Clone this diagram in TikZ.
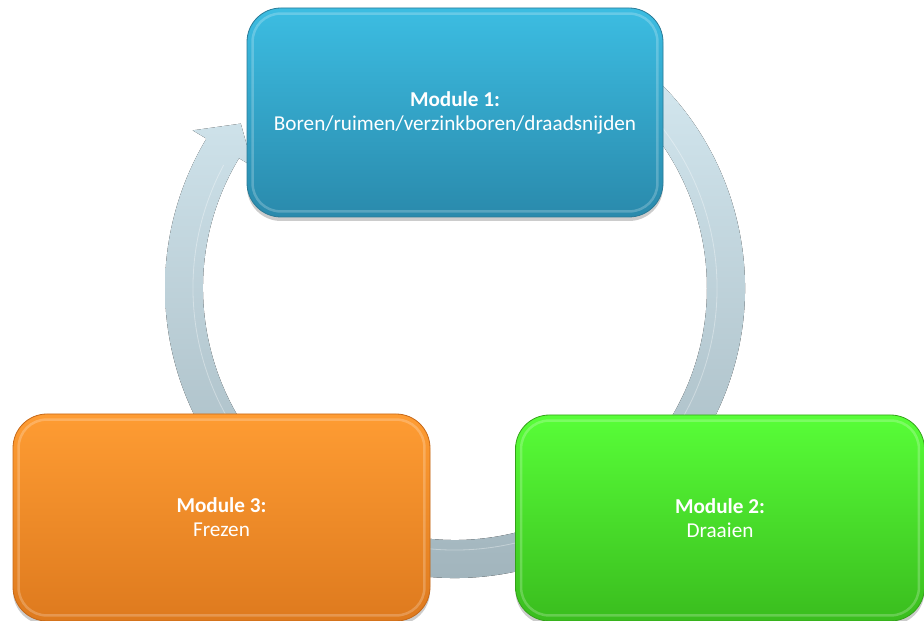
\documentclass[tikz,border=0pt]{standalone}
\usepackage{fontspec}
\setmainfont{Carlito}
\usetikzlibrary{calc,shadows}

\definecolor{ringtop}{HTML}{D6EAF2}
\definecolor{ringbot}{HTML}{9EB1B9}
\definecolor{bluetop}{HTML}{3CBDE2}
\definecolor{bluebot}{HTML}{2A8AAC}
\definecolor{blueedge}{HTML}{2A7A96}
\definecolor{orgtop}{HTML}{FE9C33}
\definecolor{orgbot}{HTML}{DE7A1E}
\definecolor{orgedge}{HTML}{C66817}
\definecolor{grntop}{HTML}{58FE38}
\definecolor{grnbot}{HTML}{3ABD1E}
\definecolor{grnedge}{HTML}{34A21A}

\tikzset{
  modbox/.style n args={3}{
    rounded corners=34pt, inner sep=0pt, align=center,
    text=white, font=\fontsize{21.2}{24}\selectfont,
    top color=#1, bottom color=#2, draw=#3, line width=0.8pt,
    drop shadow={shadow xshift=0pt, shadow yshift=-4pt, opacity=0.2, fill=black}
  },
  bevel/.style={rounded corners=28pt, draw=white, draw opacity=0.22, line width=2.5pt},
  ringfill/.style={top color=ringtop, bottom color=ringbot},
  ringgloss/.style={draw=white, draw opacity=0.35, line width=0.8pt}
}

\begin{document}
\begin{tikzpicture}[x=1pt, y=1pt]
  \useasboundingbox (0,0) rectangle (924,621);

  % cycle arrow ring around the three modules (tail hidden under module 1)
  \coordinate (c) at (455,333);
  \fill[ringfill]
    ($(c)+(60:290)$) arc[start angle=60, end angle=-211, radius=290]
    -- ($(c)+(-211:306)$) -- ($(c)+(-217.5:270)$) -- ($(c)+(-211:236)$)
    -- ($(c)+(-211:252)$) arc[start angle=-211, end angle=60, radius=252]
    -- cycle;
  \draw[ringgloss] ($(c)+(60:262)$) arc[start angle=60, end angle=-208, radius=262];

  % module boxes
  \node[modbox={bluetop}{bluebot}{blueedge}, minimum width=416pt, minimum height=209pt]
    (m1) at (455,508.5) {\textbf{Module 1:}\\Boren/ruimen/verzinkboren/draadsnijden};
  \node[modbox={grntop}{grnbot}{grnedge}, minimum width=409pt, minimum height=206pt]
    (m2) at (720,103) {\textbf{Module 2:}\\Draaien};
  \node[modbox={orgtop}{orgbot}{orgedge}, minimum width=417pt, minimum height=207pt]
    (m3) at (221.5,103.5) {\textbf{Module 3:}\\Frezen};

  % inner bevel highlights
  \foreach \m in {m1,m2,m3}{
    \draw[bevel] ([shift={(6pt,-6pt)}]\m.north west) rectangle ([shift={(-6pt,6pt)}]\m.south east);
  }
\end{tikzpicture}
\end{document}
